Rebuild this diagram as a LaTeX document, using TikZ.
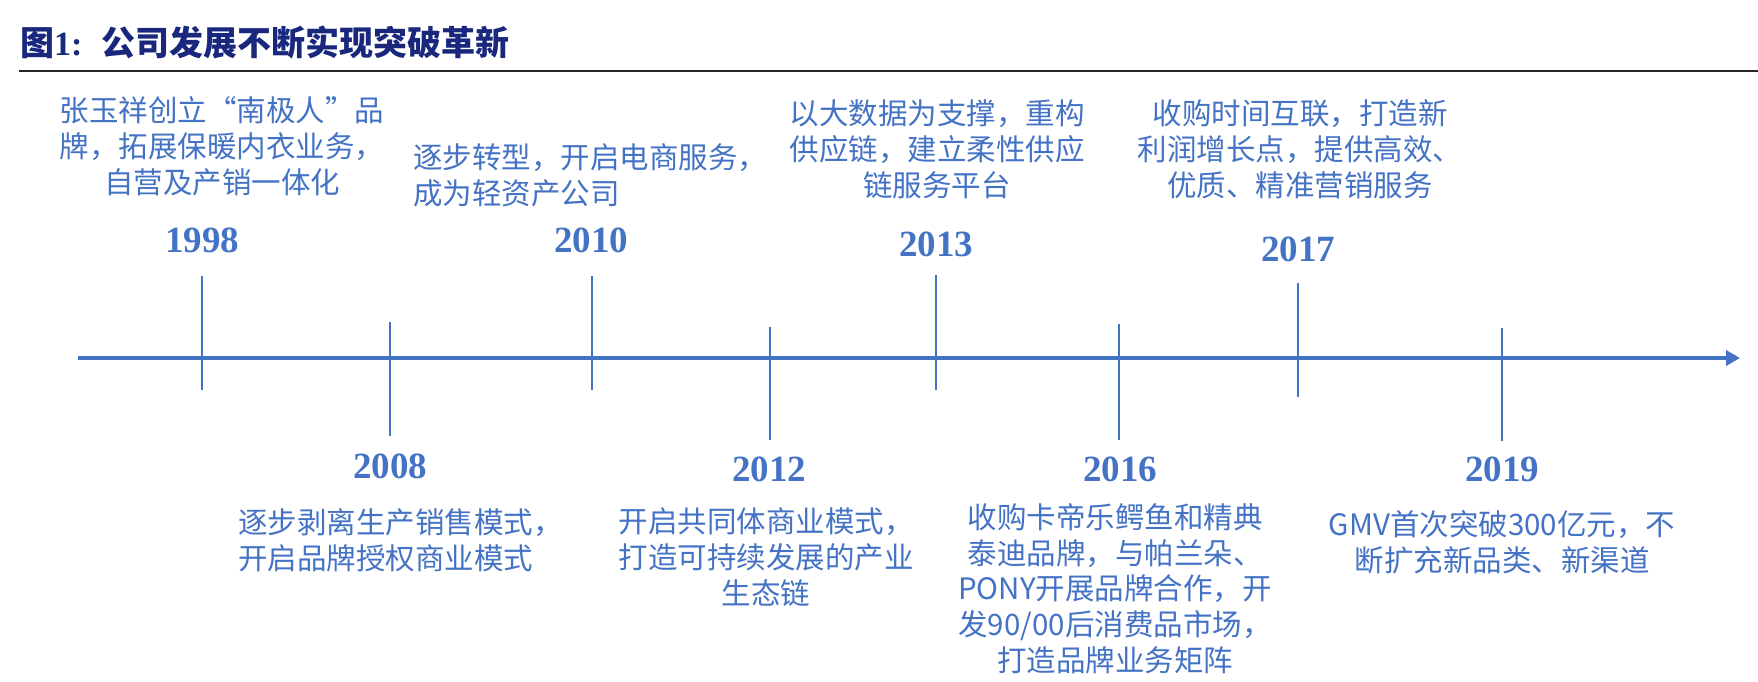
\documentclass[tikz,border=0pt]{standalone}
\usepackage{fontspec}
\setmainfont{Liberation Serif}
\newfontfamily\cjk{Noto Sans CJK SC}
\usetikzlibrary{arrows.meta}
\definecolor{tblue}{HTML}{4472C4}
\definecolor{tnavy}{RGB}{25,40,125}
\tikzset{
  axisline/.style={draw=tblue, line width=4.2pt, -{Triangle[length=14pt,width=15pt]}},
  tickline/.style={draw=tblue, line width=2.2pt},
  yearlbl/.style={font=\bfseries\fontsize{37}{37}\selectfont, text=tblue, inner sep=0pt},
  desc/.style={font=\cjk\fontsize{29.5}{36}\selectfont, text=tblue, inner sep=0pt, align=center},
  descl/.style={desc, align=left, anchor=west},
}
\begin{document}
\begin{tikzpicture}[x=1pt,y=-1pt]
\useasboundingbox (0,0) rectangle (1758,682);
% title
\node[anchor=west, inner sep=0pt, text=tnavy, font=\fontsize{34}{34}\selectfont] (title) at (20,42)
  {{\cjk\bfseries 图}{\bfseries 1:}\hspace{19pt}{\cjk\bfseries 公司发展不断实现突破革新}};
\coordinate (ruleL) at (19,71);
\coordinate (ruleR) at (1758,71);
\draw[line width=2pt, black!85] (ruleL) -- (ruleR);
% axis
\coordinate (axL) at (78,358);
\coordinate (axR) at (1740,358);
\draw[axisline] (axL) -- (axR);
% ticks
\foreach \nm/\x/\ya/\yb in {a/202/276/390, b/390/322/436, c/592/276/390, d/770/327/440, e/936/275/390, f/1119/324/440, g/1298/283/397, h/1502/328/441}{
  \coordinate (\nm top) at (\x,\ya);
  \coordinate (\nm bot) at (\x,\yb);
  \draw[tickline] (\nm top) -- (\nm bot);
}
% years
\node[yearlbl] (y1998) at (202,240) {1998};
\node[yearlbl] (y2010) at (591,240) {2010};
\node[yearlbl] (y2013) at (936,244) {2013};
\node[yearlbl] (y2017) at (1298,249) {2017};
\node[yearlbl] (y2008) at (390,466) {2008};
\node[yearlbl] (y2012) at (769,469) {2012};
\node[yearlbl] (y2016) at (1120,469) {2016};
\node[yearlbl] (y2019) at (1502,469) {2019};
% descriptions
\node[desc] (t1998) at (222,146) {张玉祥创立“南极人”品\\牌，拓展保暖内衣业务，\\自营及产销一体化};
\node[descl] (t2010) at (413,175.5) {逐步转型，开启电商服务，\\成为轻资产公司};
\node[desc] (t2013) at (937,149) {以大数据为支撑，重构\\供应链，建立柔性供应\\链服务平台};
\node[desc] (t2017) at (1300,149) {收购时间互联，打造新\\利润增长点，提供高效、\\优质、精准营销服务};
\node[descl] (t2008) at (238,540) {逐步剥离生产销售模式，\\开启品牌授权商业模式};
\node[desc] (t2012) at (766,557.5) {开启共同体商业模式，\\打造可持续发展的产业\\生态链};
\node[desc, font=\cjk\fontsize{29.5}{35.7}\selectfont] (t2016) at (1115,588.5) {收购卡帝乐鳄鱼和精典\\泰迪品牌，与帕兰朵、\\PONY开展品牌合作，开\\发90/00后消费品市场，\\打造品牌业务矩阵};
\node[desc] (t2019) at (1502,542.5) {GMV首次突破300亿元，不\\断扩充新品类、新渠道};
\end{tikzpicture}
\end{document}
